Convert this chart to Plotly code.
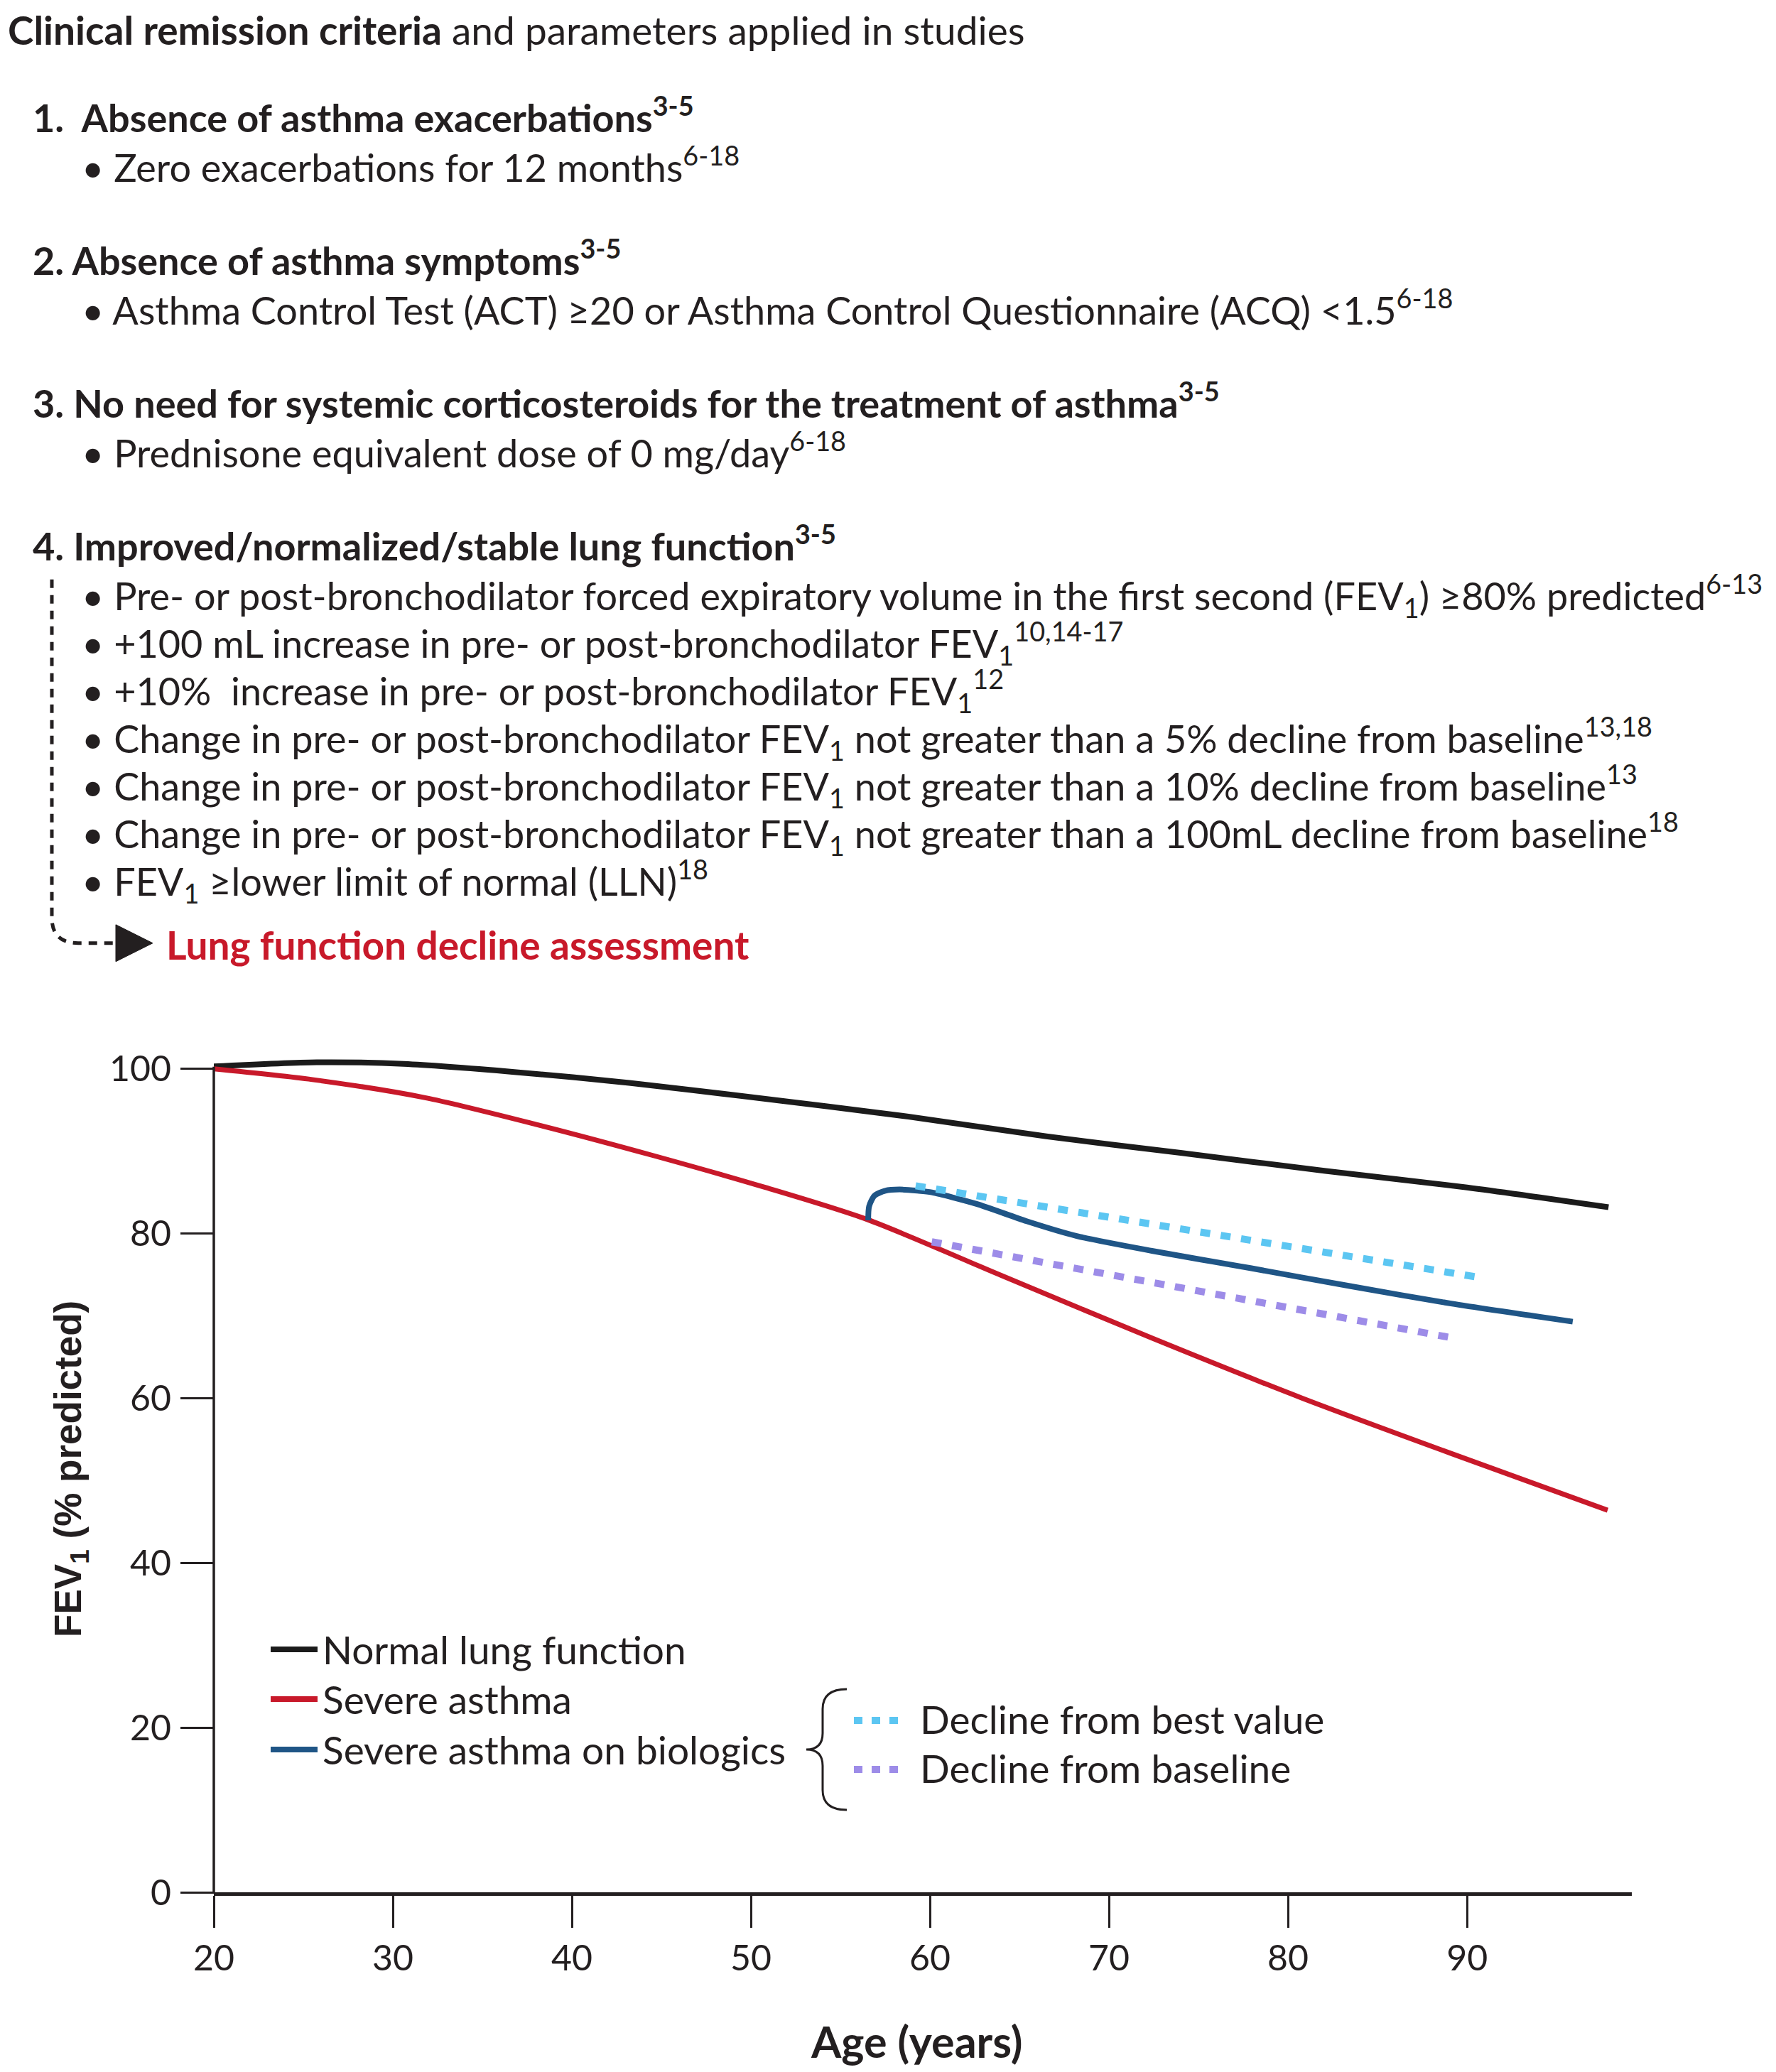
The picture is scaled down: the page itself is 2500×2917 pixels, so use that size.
import plotly.graph_objects as go

# ---------------- data ----------------
ages_normal = [20, 25.75, 30.6, 36.9, 43.2, 49.5, 58.8, 66.5, 74, 82.1, 90, 97.9]
fev_normal = [100.3, 100.8, 100.6, 99.6, 98.3, 96.7, 94.2, 91.8, 89.8, 87.6, 85.6, 83.2]

ages_severe = [20, 25.5, 31.8, 38.1, 44.5, 50.8, 56.5, 64, 72.4, 80.8, 89.1, 97.85]
fev_severe = [100, 98.7, 96.5, 93.2, 89.5, 85.6, 81.7, 74.9, 67.3, 60.0, 53.3, 46.4]

ages_bio = [56.55, 56.6, 56.9, 57.5, 58.3, 59.3, 60.1, 62.6, 65.4, 68.2, 72.4, 77.9, 83.5, 89.1, 95.9]
fev_bio = [81.6, 83.3, 84.6, 85.2, 85.35, 85.2, 85.0, 83.6, 81.5, 79.7, 77.9, 75.8, 73.6, 71.5, 69.3]

ages_best = [59.2, 90.9]
fev_best = [85.8, 74.6]

ages_base = [60.1, 89.5]
fev_base = [79.0, 67.2]

x_ticks = [20, 30, 40, 50, 60, 70, 80, 90]
y_ticks = [0, 20, 40, 60, 80, 100]

series_names = ["Normal lung function", "Severe asthma", "Severe asthma on biologics"]
decline_names = ["Decline from best value", "Decline from baseline"]

title_text = "<b>Clinical remission criteria</b> and parameters applied in studies"
headings = [
    "1.\u00a0 Absence of asthma exacerbations<sup>3-5</sup>",
    "2. Absence of asthma symptoms<sup>3-5</sup>",
    "3. No need for systemic corticosteroids for the treatment of asthma<sup>3-5</sup>",
    "4. Improved/normalized/stable lung function<sup>3-5</sup>",
]
bullets_1_3 = [
    "\u2022 Zero exacerbations for 12 months<sup>6-18</sup>",
    "\u2022 Asthma Control Test (ACT) \u226520 or Asthma Control Questionnaire (ACQ) &lt;1.5<sup>6-18</sup>",
    "\u2022 Prednisone equivalent dose of 0 mg/day<sup>6-18</sup>",
]
bullets_4 = [
    "\u2022 Pre- or post-bronchodilator forced expiratory volume in the first second (FEV<sub>1</sub>) \u226580% predicted<sup>6-13</sup>",
    "\u2022 +100 mL increase in pre- or post-bronchodilator FEV<sub>1</sub><sup>10,14-17</sup>",
    "\u2022 +10%\u00a0 increase in pre- or post-bronchodilator FEV<sub>1</sub><sup>12</sup>",
    "\u2022 Change in pre- or post-bronchodilator FEV<sub>1</sub> not greater than a 5% decline from baseline<sup>13,18</sup>",
    "\u2022 Change in pre- or post-bronchodilator FEV<sub>1</sub> not greater than a 10% decline from baseline<sup>13</sup>",
    "\u2022 Change in pre- or post-bronchodilator FEV<sub>1</sub> not greater than a 100mL decline from baseline<sup>18</sup>",
    "\u2022 FEV<sub>1</sub> \u2265lower limit of normal (LLN)<sup>18</sup>",
]
red_text = "<b>Lung function decline assessment</b>"

# ---------------- layout geometry (page pixels) ----------------
OFF = 8                      # default body margin of the html page
W, H = 2500 - OFF, 2917 - OFF
L, R_EDGE = 301, 2297        # page coords of plot left/right
B_EDGE = 2664                # page coord of y = 0
X_RANGE = [20, 99.2]
Y_RANGE = [0, 103]
px_per_y = (B_EDGE - 1505) / 100.0
T_EDGE = B_EDGE - Y_RANGE[1] * px_per_y
PW = R_EDGE - L
PH = B_EDGE - T_EDGE


def px(X):
    return (X - L) / PW


def py(Y):
    return (B_EDGE - Y) / PH


def path_px(cmds):
    out = []
    for c in cmds:
        if isinstance(c, str):
            out.append(c)
        else:
            out.append(f"{px(c[0]):.5f},{py(c[1]):.5f}")
    return " ".join(out)


INK = "#231f20"
BLACK = "#1b1b1b"
RED = "#c8192a"
BLUE = "#1f5586"
LBLUE = "#5cc6f2"
PURPLE = "#9d8ce8"
FONT = "Lato"

fig = go.Figure()
fig.add_trace(go.Scatter(x=ages_normal, y=fev_normal, mode="lines",
                         line=dict(color=BLACK, width=8, shape="spline", smoothing=0.8),
                         name=series_names[0], showlegend=False, cliponaxis=False))
fig.add_trace(go.Scatter(x=ages_severe, y=fev_severe, mode="lines",
                         line=dict(color=RED, width=7, shape="spline", smoothing=0.8),
                         name=series_names[1], showlegend=False, cliponaxis=False))
fig.add_trace(go.Scatter(x=ages_bio, y=fev_bio, mode="lines",
                         line=dict(color=BLUE, width=8, shape="spline", smoothing=0.7),
                         name=series_names[2], showlegend=False, cliponaxis=False))
fig.add_trace(go.Scatter(x=ages_best, y=fev_best, mode="lines",
                         line=dict(color=LBLUE, width=10, dash="14px,15px"),
                         name=decline_names[0], showlegend=False, cliponaxis=False))
fig.add_trace(go.Scatter(x=ages_base, y=fev_base, mode="lines",
                         line=dict(color=PURPLE, width=10, dash="14px,15px"),
                         name=decline_names[1], showlegend=False, cliponaxis=False))

shapes = []
# y axis line from 0 to 100
shapes.append(dict(type="line", xref="paper", yref="paper", x0=0, x1=0,
                   y0=py(B_EDGE + 2), y1=py(1502), line=dict(color=INK, width=3.5)))

# dotted connector on the left of criterion 4
shapes.append(dict(type="path", xref="paper", yref="paper",
                   path=path_px(["M", (73, 816), "L", (73, 1292), "Q", (73, 1328), (110, 1328), "L", (162, 1328)]),
                   line=dict(color=INK, width=5, dash="12px,10px")))
shapes.append(dict(type="path", xref="paper", yref="paper",
                   path=path_px(["M", (163, 1302), "L", (215, 1328), "L", (163, 1354), "Z"]),
                   fillcolor=INK, line=dict(color=INK, width=1)))

# legend samples
leg_y = [2322, 2392, 2463]
leg_cols = [BLACK, RED, BLUE]
for yy, col in zip(leg_y, leg_cols):
    shapes.append(dict(type="line", xref="paper", yref="paper",
                       x0=px(381), x1=px(447), y0=py(yy), y1=py(yy),
                       line=dict(color=col, width=8)))
dec_y = [2422, 2491]
dec_cols = [LBLUE, PURPLE]
for yy, col in zip(dec_y, dec_cols):
    shapes.append(dict(type="line", xref="paper", yref="paper",
                       x0=px(1202), x1=px(1266), y0=py(yy), y1=py(yy),
                       line=dict(color=col, width=10, dash="12px,13px")))
# brace
shapes.append(dict(type="path", xref="paper", yref="paper",
                   path=path_px(["M", (1192, 2378), "Q", (1158, 2378), (1158, 2406),
                                 "L", (1158, 2440), "Q", (1158, 2463), (1135, 2463),
                                 "Q", (1158, 2463), (1158, 2486), "L", (1158, 2520),
                                 "Q", (1158, 2548), (1192, 2548)]),
                   line=dict(color=INK, width=3)))

ann = []


def txt(text, X, Y, size, color=INK, xanchor="left", family=FONT, angle=0):
    ann.append(dict(text=text, x=px(X), y=py(Y), xref="paper", yref="paper",
                    xanchor=xanchor, yanchor="middle", showarrow=False, textangle=angle,
                    font=dict(family=family, size=size, color=color)))


txt(title_text, 9, 43, 55)
head_y = [162, 363, 564, 765]
bul_y = [232, 433, 634]
for i, t in enumerate(headings):
    txt("<b>" + t + "</b>", 44, head_y[i], 54)
for i, t in enumerate(bullets_1_3):
    txt(t, 113, bul_y[i], 54)
b4_y = [839, 906, 973, 1040, 1107, 1174, 1241]
for t, yy in zip(bullets_4, b4_y):
    txt(t, 113, yy, 54)
txt(red_text, 232, 1330, 55, color=RED)

# legend texts
for name, yy in zip(series_names, leg_y):
    txt(name, 452, yy, 55)
for name, yy in zip(decline_names, dec_y):
    txt(name, 1293, yy - 2, 55)

# axis titles
txt("<b>Age (years)</b>", 1290, 2873, 61, xanchor="center")
txt("<b>FEV<sub>1</sub> (% predicted)</b>", 100, 2068, 53, xanchor="center",
    family="Liberation Sans", angle=-90)

fig.update_layout(
    width=W, height=H, autosize=False,
    margin=dict(l=L - OFF, r=W - (R_EDGE - OFF), t=T_EDGE - OFF, b=H - (B_EDGE - OFF), pad=0),
    paper_bgcolor="white", plot_bgcolor="white",
    showlegend=False,
    shapes=shapes, annotations=ann,
    xaxis=dict(range=X_RANGE, tickvals=x_ticks, ticks="outside", ticklen=45, tickwidth=2.5,
               tickcolor=INK, showline=True, linecolor=INK, linewidth=5, showgrid=False,
               zeroline=False, ticklabelstandoff=0,
               tickfont=dict(family=FONT, size=50, color=INK)),
    yaxis=dict(range=Y_RANGE, tickvals=y_ticks, ticks="outside", ticklen=46, tickwidth=2.5,
               tickcolor=INK, showline=False, showgrid=False, zeroline=False,
               ticklabelstandoff=3,
               tickfont=dict(family=FONT, size=50, color=INK)),
)

fig.write_html("out.html")
